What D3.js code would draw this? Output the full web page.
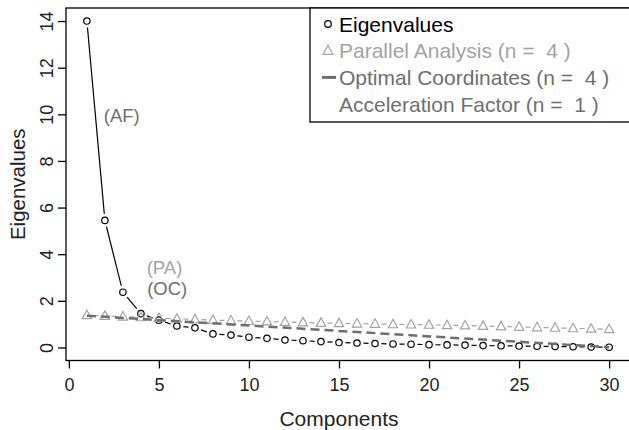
<!DOCTYPE html>
<html>
<head>
<meta charset="utf-8">
<script src="https://cdn.jsdelivr.net/npm/d3@7"></script>
<style>
  html, body { margin: 0; padding: 0; background: #fff; }
  svg { display: block; font-family: "Liberation Sans", Arial, sans-serif; }
  text { white-space: pre; }
</style>
</head>
<body>
<svg id="chart" width="629" height="430"></svg>
<script>
// ---- data ----
const components = d3.range(1, 31);
const eigenvalues = [14.0, 5.45, 2.37, 1.45, 1.17, 0.92, 0.84, 0.58, 0.53, 0.44,
                     0.39, 0.32, 0.29, 0.25, 0.21, 0.19, 0.17, 0.15, 0.14, 0.12,
                     0.11, 0.10, 0.08, 0.07, 0.06, 0.05, 0.04, 0.03, 0.02, 0.01];
const parallelAnalysis = [1.38, 1.35, 1.32, 1.29, 1.26, 1.23, 1.20, 1.17, 1.15, 1.13,
                          1.11, 1.09, 1.07, 1.05, 1.04, 1.02, 1.01, 0.99, 0.98, 0.97,
                          0.95, 0.94, 0.92, 0.90, 0.88, 0.86, 0.84, 0.82, 0.80, 0.78];
const ocLineX = [1, 30];
const ocLineY = [1.36, 0.01];
const xTicks = [0, 5, 10, 15, 20, 25, 30];
const yTicks = [0, 2, 4, 6, 8, 10, 12, 14];
const legendLabels = ["Eigenvalues", "Parallel Analysis (n =  4 )",
                      "Optimal Coordinates (n =  4 )", "Acceleration Factor (n =  1 )"];
const annotLabels = ["(AF)", "(PA)", "(OC)"];
const annotX = [1.94, 4.32, 4.35];
const annotY = [9.68, 3.15, 2.25];

// ---- styles ----
const colEig = "#000000", colPA = "#a3a3a3", colOC = "#6e6e6e", colAF = "#707070";

const svg = d3.select("#chart");
const L = 66, R = 630, T = 8, B = 360.5;
const x = d3.scaleLinear().domain([-0.16, 31.16]).range([L, R]);
const y = d3.scaleLinear().domain([-0.56, 14.56]).range([B, T]);

// type="b" segments with gaps
function bSegments(g, xs, ys, color, gap) {
  for (let i = 0; i < xs.length - 1; i++) {
    const x1 = x(xs[i]), y1 = y(ys[i]), x2 = x(xs[i + 1]), y2 = y(ys[i + 1]);
    const dx = x2 - x1, dy = y2 - y1, len = Math.hypot(dx, dy);
    if (len <= 2 * gap) continue;
    const ux = dx / len, uy = dy / len;
    g.append("line")
      .attr("x1", x1 + ux * gap).attr("y1", y1 + uy * gap)
      .attr("x2", x2 - ux * gap).attr("y2", y2 - uy * gap)
      .attr("stroke", color).attr("stroke-width", 1.2);
  }
}
const tri = (cx, cy, s) => `M${cx},${cy - s * 0.6}L${cx + s * 0.55},${cy + s * 0.4}L${cx - s * 0.55},${cy + s * 0.4}Z`;

// eigenvalues
const gE = svg.append("g");
bSegments(gE, components, eigenvalues, colEig, 6.5);
gE.selectAll("circle").data(components).enter().append("circle")
  .attr("cx", d => x(d)).attr("cy", (d, i) => y(eigenvalues[i])).attr("r", 3.2)
  .attr("fill", "none").attr("stroke", colEig).attr("stroke-width", 1.2);

// parallel analysis
const gP = svg.append("g");
bSegments(gP, components, parallelAnalysis, colPA, 6.5);
gP.selectAll("path").data(components).enter().append("path")
  .attr("d", (d, i) => tri(x(d), y(parallelAnalysis[i]), 8.5))
  .attr("fill", "none").attr("stroke", colPA).attr("stroke-width", 1.2);

// optimal coordinates line
svg.append("line")
  .attr("x1", x(ocLineX[0])).attr("y1", y(ocLineY[0]))
  .attr("x2", x(ocLineX[1])).attr("y2", y(ocLineY[1]))
  .attr("stroke", colOC).attr("stroke-width", 2.5).attr("stroke-dasharray", "9,5");

// annotations
const annotCols = [colAF, colPA, colOC];
annotLabels.forEach((t, i) => {
  svg.append("text").attr("x", x(annotX[i])).attr("y", y(annotY[i]))
    .attr("font-size", 18.5).attr("fill", annotCols[i]).text(t);
});

// box
svg.append("rect").attr("x", L).attr("y", T).attr("width", R - L).attr("height", B - T)
  .attr("fill", "none").attr("stroke", "#000").attr("stroke-width", 1.3);

// x axis
const xAxis = svg.append("g").attr("transform", `translate(0,${B})`)
  .call(d3.axisBottom(x).tickValues(xTicks).tickSize(8).tickSizeOuter(0).tickPadding(6));
xAxis.select(".domain").remove();
xAxis.selectAll("line").attr("stroke", "#000").attr("stroke-width", 1.3);
xAxis.selectAll("text").attr("font-size", 18).attr("fill", "#222")
  .attr("font-family", "Liberation Sans, Arial, sans-serif").attr("dy", null).attr("y", 30);

// y axis
const yAxis = svg.append("g").attr("transform", `translate(${L},0)`)
  .call(d3.axisLeft(y).tickValues(yTicks).tickSize(8).tickSizeOuter(0));
yAxis.select(".domain").remove();
yAxis.selectAll("line").attr("stroke", "#000").attr("stroke-width", 1.3);
yAxis.selectAll("text").attr("font-size", 18).attr("fill", "#222")
  .attr("font-family", "Liberation Sans, Arial, sans-serif")
  .attr("dy", null).attr("x", 0).attr("y", -13)
  .attr("text-anchor", "middle").attr("transform", "rotate(-90)");

// axis titles
svg.append("text").attr("x", (x(0) + x(30)) / 2).attr("y", 426)
  .attr("text-anchor", "middle").attr("font-size", 21).attr("fill", "#222").text("Components");
svg.append("text").attr("transform", `translate(25,${(T + B) / 2}) rotate(-90)`)
  .attr("text-anchor", "middle").attr("font-size", 20.5).attr("fill", "#222").text("Eigenvalues");

// legend
svg.append("rect").attr("x", 310).attr("y", T).attr("width", 340).attr("height", 122 - T)
  .attr("fill", "#fff").attr("stroke", "#000").attr("stroke-width", 1.3);
const legCols = [colEig, colPA, colOC, colAF];
const base0 = 31.5, step = 26.7;
legendLabels.forEach((t, i) => {
  const by = base0 + i * step, cy = by - 7.5;
  svg.append("text").attr("x", 339).attr("y", by).attr("font-size", 21)
    .attr("xml:space", "preserve").attr("fill", legCols[i]).text(t);
  if (i === 0) {
    svg.append("circle").attr("cx", 328).attr("cy", cy).attr("r", 3.3)
      .attr("fill", "none").attr("stroke", colEig).attr("stroke-width", 1.2);
  } else if (i === 1) {
    svg.append("path").attr("d", tri(328, cy, 9)).attr("fill", "none")
      .attr("stroke", colPA).attr("stroke-width", 1.2);
  } else if (i === 2) {
    svg.append("line").attr("x1", 322).attr("x2", 336).attr("y1", cy).attr("y2", cy)
      .attr("stroke", colOC).attr("stroke-width", 3);
  }
});
</script>
</body>
</html>
